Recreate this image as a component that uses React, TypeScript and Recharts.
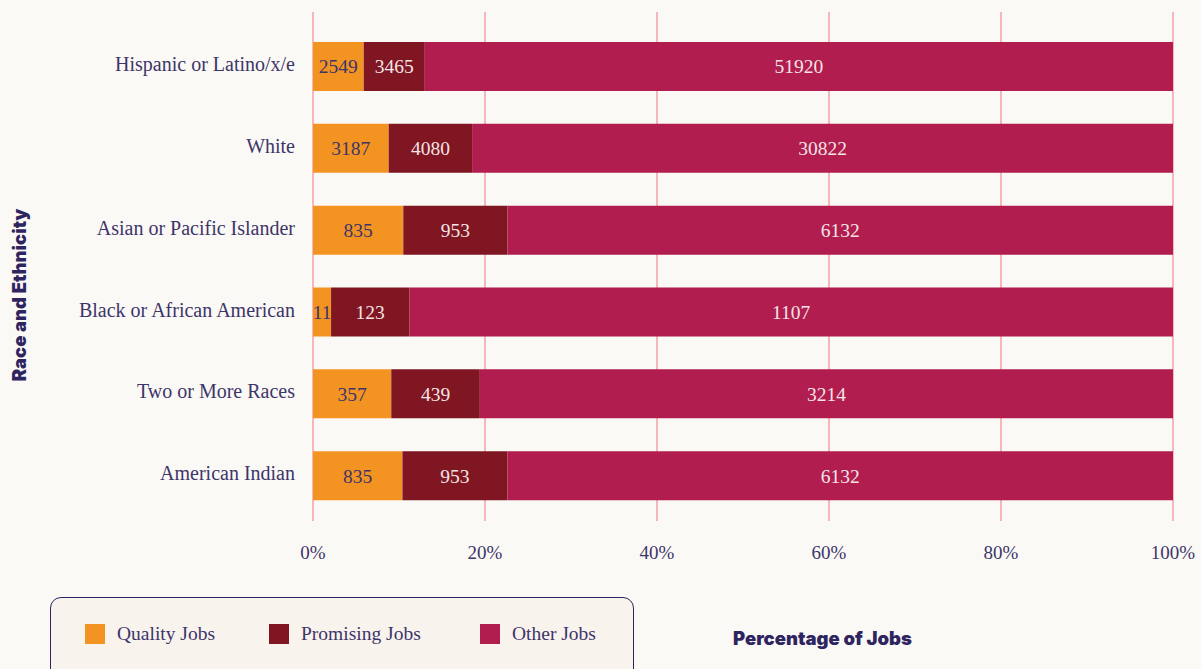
import React from "react";
import {
  BarChart,
  Bar,
  XAxis,
  YAxis,
  CartesianGrid,
  LabelList,
} from "recharts";

const categories = [
  "Hispanic or Latino/x/e",
  "White",
  "Asian or Pacific Islander",
  "Black or African American",
  "Two or More Races",
  "American Indian",
];

// bar lengths (percent of jobs)
const qualityPct = [5.9, 8.8, 10.5, 2.1, 9.1, 10.4];
const promisingPct = [7.1, 9.7, 12.1, 9.1, 10.3, 12.2];
const otherPct = [87.0, 81.5, 77.4, 88.8, 80.6, 77.4];

// counts shown on the bars
const qualityCount = [2549, 3187, 835, 11, 357, 835];
const promisingCount = [3465, 4080, 953, 123, 439, 953];
const otherCount = [51920, 30822, 6132, 1107, 3214, 6132];

const xTicks = [0, 20, 40, 60, 80, 100];

const seriesNames = ["Quality Jobs", "Promising Jobs", "Other Jobs"];

const COLORS = {
  bg: "#fbf9f5",
  quality: "#f39322",
  promising: "#7f1622",
  other: "#b01d4e",
  grid: "#f5b7ba",
  text: "#3d3569",
  title: "#2e2560",
  light: "#f6e4e6",
  legendBg: "#f9f3ee",
};

const SERIF = "'Liberation Serif', serif";
const SANS = "Inter, 'Noto Sans', sans-serif";

const data = categories.map((c, i) => ({
  name: c,
  q: qualityPct[i],
  p: promisingPct[i],
  o: otherPct[i],
  qn: qualityCount[i],
  pn: promisingCount[i],
  on: otherCount[i],
}));

const legendColors = [COLORS.quality, COLORS.promising, COLORS.other];
const legendX = [85, 269, 480];

export default function App() {
  return (
    <div
      style={{
        position: "absolute",
        left: 0,
        top: 0,
        width: 1201,
        height: 669,
        background: COLORS.bg,
        overflow: "hidden",
      }}
    >
      <BarChart
        width={1201}
        height={669}
        data={data}
        layout="vertical"
        margin={{ top: 12, right: 28, bottom: 108, left: 0 }}
        barCategoryGap={0}
      >
        <CartesianGrid
          horizontal={false}
          vertical={true}
          stroke={COLORS.grid}
          strokeWidth={2}
        />
        <XAxis
          type="number"
          domain={[0, 100]}
          ticks={xTicks}
          tickFormatter={(v: number) => `${v}%`}
          axisLine={false}
          tickLine={false}
          tickSize={0}
          tickMargin={25}
          height={40}
          tick={{ fill: COLORS.text, fontFamily: SERIF, fontSize: 19 }}
          interval={0}
        />
        <YAxis
          type="category"
          dataKey="name"
          width={313}
          axisLine={false}
          tickLine={false}
          tickSize={0}
          tickMargin={18}
          padding={{ top: 14, bottom: 4 }}
          tick={{ fill: COLORS.text, fontFamily: SERIF, fontSize: 20, dy: -3 }}
          interval={0}
        />
        <Bar
          dataKey="q"
          stackId="a"
          fill={COLORS.quality}
          barSize={49}
          isAnimationActive={false}
        >
          <LabelList
            dataKey="qn"
            position="center"
            fill={COLORS.text}
            style={{ fontFamily: SERIF, fontSize: 19.5 }}
          />
        </Bar>
        <Bar
          dataKey="p"
          stackId="a"
          fill={COLORS.promising}
          barSize={49}
          isAnimationActive={false}
        >
          <LabelList
            dataKey="pn"
            position="center"
            fill={COLORS.light}
            style={{ fontFamily: SERIF, fontSize: 19.5 }}
          />
        </Bar>
        <Bar
          dataKey="o"
          stackId="a"
          fill={COLORS.other}
          barSize={49}
          isAnimationActive={false}
        >
          <LabelList
            dataKey="on"
            position="center"
            fill={COLORS.light}
            style={{ fontFamily: SERIF, fontSize: 19.5 }}
          />
        </Bar>
      </BarChart>

      {/* Y axis title */}
      <div
        style={{
          position: "absolute",
          left: 19,
          top: 295,
          transform: "translate(-50%, -50%) rotate(-90deg)",
          whiteSpace: "nowrap",
          fontFamily: SANS,
          fontWeight: 900,
          fontSize: 18.5,
          color: COLORS.title,
        }}
      >
        Race and Ethnicity
      </div>

      {/* X axis title */}
      <div
        style={{
          position: "absolute",
          left: 733,
          top: 627,
          whiteSpace: "nowrap",
          fontFamily: SANS,
          fontWeight: 900,
          fontSize: 18.5,
          color: COLORS.title,
        }}
      >
        Percentage of Jobs
      </div>

      {/* Legend */}
      <div
        style={{
          position: "absolute",
          left: 50,
          top: 597,
          width: 584,
          height: 90,
          border: `1.5px solid ${COLORS.title}`,
          borderRadius: 11,
          background: COLORS.legendBg,
          boxSizing: "border-box",
        }}
      >
        {seriesNames.map((n, i) => (
          <div
            key={n}
            style={{
              position: "absolute",
              left: legendX[i] - 51,
              top: 25,
              display: "flex",
              alignItems: "center",
              whiteSpace: "nowrap",
            }}
          >
            <div
              style={{
                width: 20,
                height: 20,
                background: legendColors[i],
                marginRight: 12,
              }}
            />
            <span
              style={{
                fontFamily: SERIF,
                fontSize: 19.5,
                color: COLORS.text,
              }}
            >
              {n}
            </span>
          </div>
        ))}
      </div>
    </div>
  );
}
